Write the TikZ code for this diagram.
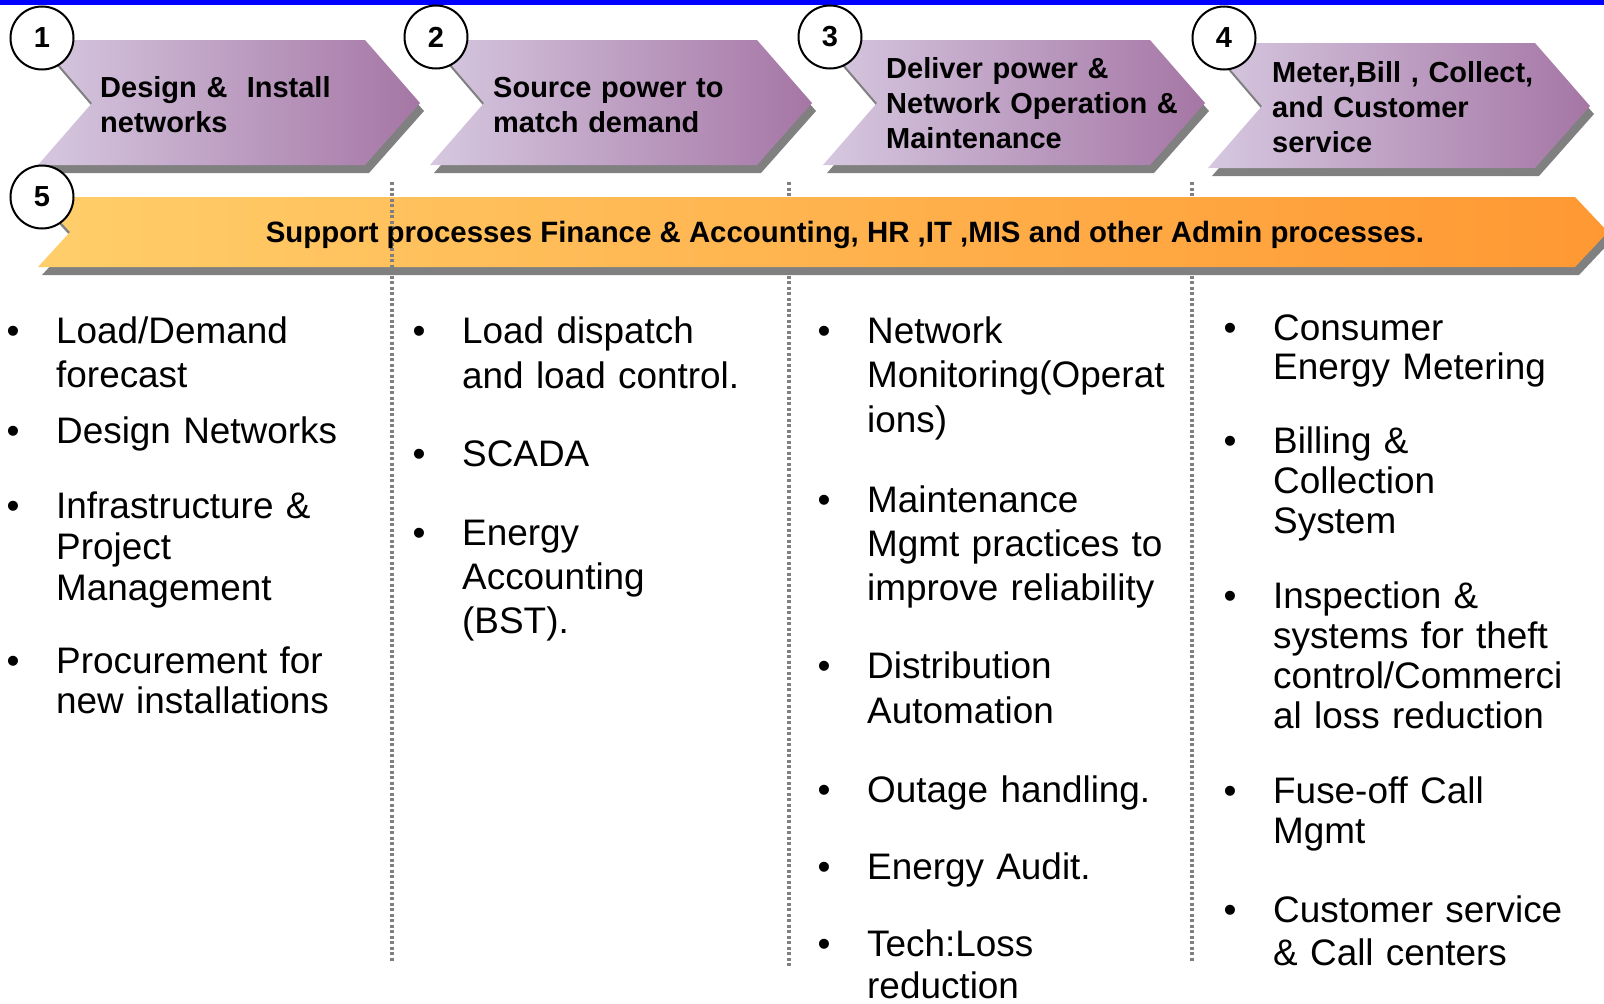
\documentclass[tikz,border=0pt]{standalone}
\usepackage{fontspec}
\setmainfont{Liberation Sans}
\usepackage{xcolor}
\usetikzlibrary{calc, positioning}

\definecolor{tim1}{RGB}{214,200,224}
\definecolor{tim2}{RGB}{165,118,165}
\definecolor{cam1}{RGB}{255,206,106}
\definecolor{cam2}{RGB}{255,152,50}
\definecolor{bong}{RGB}{128,128,128}

% dấu chấm đầu dòng treo bên trái
\newcommand{\bul}{\makebox[0pt][r]{\textbullet\hspace{36.7pt}}}

\begin{document}
\begin{tikzpicture}[x=1pt, y=-1pt,
    stage/.style={left color=tim1, right color=tim2},
    band/.style={left color=cam1, right color=cam2},
    num/.style={circle, draw, line width=2pt, fill=white, minimum size=63pt, inner sep=0pt,
        font=\bfseries\fontsize{29}{29}\selectfont},
    lbl/.style={anchor=base west, text width=330pt, align=left, inner sep=0pt,
        font=\bfseries\fontsize{29}{35}\selectfont},
    item/.style={anchor=base west, text width=340pt, align=left, inner sep=0pt,
        font=\fontsize{36.9}{#1}\selectfont},
    sep/.style={draw=bong, line width=3.5pt, dash pattern=on 3pt off 2.5pt}]
    \useasboundingbox (0,0) rectangle (1604,1004);
    \fill[blue] (0,0) rectangle (1604,5);

    % 4 mũi tên công đoạn: x trái / y trên
    \foreach \x/\y in {38/40, 430/40, 823/40, 1208/43} {
        \fill[bong, shift={(4,8)}] (\x,\y) -- ++(327,0) -- ++(55,63) -- ++(-55,62)
            -- ++(-327,0) -- ++(54,-62) -- cycle;
        \shade[stage] (\x,\y) -- ++(327,0) -- ++(55,63) -- ++(-55,62)
            -- ++(-327,0) -- ++(54,-62) -- cycle;
    }

    % đường chấm ngăn cột
    \draw[sep] (789,182) -- (789,966);
    \draw[sep] (1192,182) -- (1192,962);

    % dải hỗ trợ
    \fill[bong, shift={(4,8)}] (38,197) -- (1575,197) -- (1608,232) -- (1575,267)
        -- (38,267) -- (70,232) -- cycle;
    \shade[band] (38,197) -- (1575,197) -- (1608,232) -- (1575,267)
        -- (38,267) -- (70,232) -- cycle;
    \draw[sep] (392,182) -- (392,962);

    \node[num] (n1) at (42,38) {1};
    \node[num] (n2) at (436,37) {2};
    \node[num] (n3) at (830,37) {3};
    \node[num] (n4) at (1224,38) {4};
    \node[num] (n5) at (42,197) {5};

    \node[lbl] (s1) at (100,97) {Design \&\ \ Install\\networks};
    \node[lbl] (s2) at (493,97) {Source power to\\match demand};
    \node[lbl] (s3) at (886,78) {Deliver power \&\\Network Operation \&\\Maintenance};
    \node[lbl] (s4) at (1272,82) {Meter,Bill , Collect,\\and Customer\\service};
    \node[anchor=base, font=\bfseries\fontsize{29.4}{35}\selectfont] (s5) at (845,242)
        {Support processes Finance \& Accounting, HR ,IT ,MIS and other Admin processes.};

    % cột 1
    \node[item=44] (a1) at (56,343) {\bul Load/Demand\\forecast};
    \node[item=44] (a2) at (56,443) {\bul Design Networks};
    \node[item=41] (a3) at (56,518) {\bul Infrastructure \&\\Project\\Management};
    \node[item=40] (a4) at (56,673) {\bul Procurement for\\new installations};
    % cột 2
    \node[item=45] (b1) at (462,343) {\bul Load dispatch\\and load control.};
    \node[item=44] (b2) at (462,466) {\bul SCADA};
    \node[item=44] (b3) at (462,545) {\bul Energy\\Accounting\\(BST).};
    % cột 3
    \node[item=44.5] (c1) at (867,343) {\bul Network\\Monitoring(Operat\\ions)};
    \node[item=44] (c2) at (867,512) {\bul Maintenance\\Mgmt practices to\\improve reliability};
    \node[item=45] (c3) at (867,678) {\bul Distribution\\Automation};
    \node[item=44] (c4) at (867,802) {\bul Outage handling.};
    \node[item=44] (c5) at (867,879) {\bul Energy Audit.};
    \node[item=42] (c6) at (867,956) {\bul Tech:Loss\\reduction};
    % cột 4
    \node[item=39] (d1) at (1273,340) {\bul Consumer\\Energy Metering};
    \node[item=40] (d2) at (1273,453) {\bul Billing \&\\Collection\\System};
    \node[item=40.3] (d3) at (1273,608) {\bul Inspection \&\\systems for theft\\control/Commerci\\al loss reduction};
    \node[item=40] (d4) at (1273,803) {\bul Fuse-off Call\\Mgmt};
    \node[item=43] (d5) at (1273,922) {\bul Customer service\\\& Call centers};
\end{tikzpicture}
\end{document}
